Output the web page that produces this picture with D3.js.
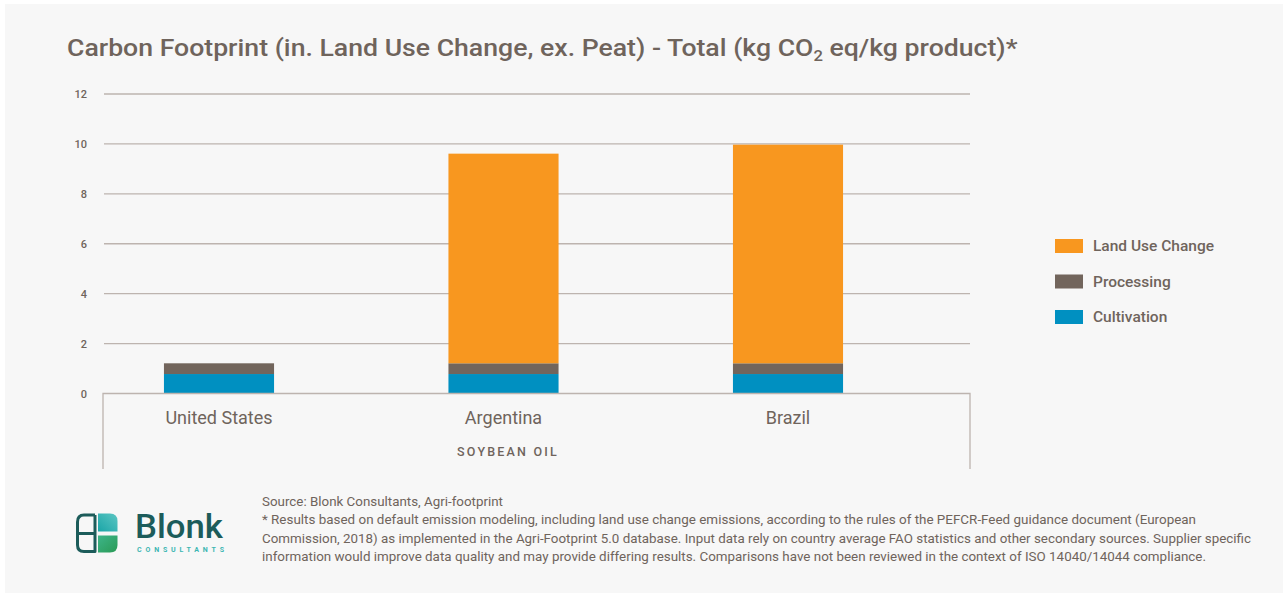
<!DOCTYPE html>
<html>
<head>
<meta charset="utf-8">
<title>Carbon Footprint - Soybean oil</title>
<script src="https://cdn.jsdelivr.net/npm/d3@7"></script>
<style>
  body { margin: 0; background: #fff; }
  text { font-family: Roboto, "Open Sans", sans-serif; }
</style>
</head>
<body>
<svg id="chart" width="1287" height="596"></svg>
<script>
// data
var countries = ["United States", "Argentina", "Brazil"];
var cultivation = [0.78, 0.78, 0.78];
var processing = [0.43, 0.43, 0.43];
var landUseChange = [0, 8.40, 8.76];
var seriesNames = ["Land Use Change", "Processing", "Cultivation"];
var seriesColors = ["#f8971f", "#72655c", "#0090c1"];
var yTicks = [0, 2, 4, 6, 8, 10, 12];
var groupLabel = "SOYBEAN OIL";
var footLines = [
  "Source: Blonk Consultants, Agri-footprint",
  "* Results based on default emission modeling, including land use change emissions, according to the rules of the PEFCR-Feed guidance document (European",
  "Commission, 2018) as implemented in the Agri-Footprint 5.0 database. Input data rely on country average FAO statistics and other secondary sources. Supplier specific",
  "information would improve data quality and may provide differing results. Comparisons have not been reviewed in the context of ISO 14040/14044 compliance."
];
var footWidths = [241, 934, 989, 944];

var textCol = "#6f645c";
var svg = d3.select("#chart");

svg.append("rect").attr("x", 5).attr("y", 4).attr("width", 1278).attr("height", 589).attr("fill", "#f7f7f7");

// title
var title = svg.append("text").attr("x", 67).attr("y", 56)
  .attr("font-size", 24).attr("font-weight", 500).attr("fill", textCol);
title.append("tspan").text("Carbon Footprint (in. Land Use Change, ex. Peat) - Total (kg CO");
title.append("tspan").text("2").attr("font-size", 15).attr("dy", 5);
title.append("tspan").text(" eq/kg product)*").attr("dy", -5);
var tw = title.node().getComputedTextLength();
title.attr("transform", "translate(67,0) scale(" + (951 / tw) + ",1) translate(-67,0)");

var y = d3.scaleLinear().domain([0, 12]).range([393.5, 94]);
var x = d3.scaleBand().domain(countries).range([76.75, 930.25])
  .paddingInner(0.613).paddingOuter(0.3065);

// gridlines
svg.append("g").selectAll("line").data(yTicks.filter(function(d){ return d > 0; }))
  .enter().append("line")
  .attr("x1", 104).attr("x2", 970)
  .attr("y1", function(d){ return y(d); }).attr("y2", function(d){ return y(d); })
  .attr("stroke", "#bdb4af").attr("stroke-width", 1.3);

// y tick labels
svg.append("g").selectAll("text").data(yTicks).enter().append("text")
  .attr("x", 87).attr("y", function(d){ return y(d) + 4; })
  .attr("text-anchor", "end").attr("font-size", 11).attr("font-weight", 500)
  .attr("fill", textCol).text(function(d){ return d; });

// stacked bars
var rows = countries.map(function(c, i) {
  return { country: c, "Cultivation": cultivation[i], "Processing": processing[i], "Land Use Change": landUseChange[i] };
});
var stack = d3.stack().keys(["Cultivation", "Processing", "Land Use Change"]);
var layers = stack(rows);
svg.append("g").selectAll("g").data(layers).enter().append("g")
  .attr("fill", function(d){ return seriesColors[seriesNames.indexOf(d.key)]; })
  .selectAll("rect").data(function(d){ return d; }).enter().append("rect")
  .attr("x", function(d){ return x(d.data.country); })
  .attr("width", x.bandwidth())
  .attr("y", function(d){ return y(d[1]); })
  .attr("height", function(d){ return y(d[0]) - y(d[1]); });

// category axis box
var ax = svg.append("g").attr("stroke", "#bdb4af").attr("stroke-width", 1.3).attr("fill", "none");
ax.append("path").attr("d", "M103,469V" + y(0) + "H970V469");

svg.append("g").selectAll("text").data(countries).enter().append("text")
  .attr("x", function(d){ return x(d) + x.bandwidth() / 2; }).attr("y", 424)
  .attr("text-anchor", "middle").attr("font-size", 18).attr("fill", textCol)
  .text(function(d){ return d; });

svg.append("text").attr("x", 508).attr("y", 456).attr("text-anchor", "middle")
  .attr("font-size", 12.5).attr("font-weight", 500).attr("letter-spacing", 2.2)
  .attr("fill", textCol).text(groupLabel);

// legend
var leg = svg.append("g").selectAll("g").data(seriesNames).enter().append("g")
  .attr("transform", function(d, i){ return "translate(1055," + (239 + i * 35.5) + ")"; });
leg.append("rect").attr("width", 28).attr("height", 14)
  .attr("fill", function(d, i){ return seriesColors[i]; });
leg.append("text").attr("x", 38).attr("y", 12).attr("font-size", 15.5).attr("font-weight", 500)
  .attr("fill", textCol).text(function(d){ return d; });

// footnotes
svg.append("g").selectAll("text").data(footLines).enter().append("text")
  .attr("x", 262).attr("y", function(d, i){ return 506 + i * 18.3; })
  .attr("font-size", 13).attr("fill", textCol)
  .attr("textLength", function(d, i){ return footWidths[i]; })
  .attr("lengthAdjust", "spacingAndGlyphs")
  .text(function(d){ return d; });

// logo
var logo = svg.append("g");
var defs = svg.append("defs");
var g1 = defs.append("linearGradient").attr("id", "lgTop").attr("x1", 0).attr("y1", 1).attr("x2", 1).attr("y2", 0);
g1.append("stop").attr("offset", 0).attr("stop-color", "#1aa5a7");
g1.append("stop").attr("offset", 1).attr("stop-color", "#5cc6c3");
var g2 = defs.append("linearGradient").attr("id", "lgBot").attr("x1", 0).attr("y1", 0).attr("x2", 1).attr("y2", 1);
g2.append("stop").attr("offset", 0).attr("stop-color", "#3db58a");
g2.append("stop").attr("offset", 1).attr("stop-color", "#2a9a55");
logo.append("path")
  .attr("d", "M95,515H84Q77.5,515 77.5,522V533.5Q77.5,540 77.5,545Q77.5,551.5 84,551.5H95V515 M77.5,533.5H95")
  .attr("fill", "none").attr("stroke", "#1c5c5a").attr("stroke-width", 3).attr("stroke-linejoin", "round");
logo.append("path").attr("d", "M98,513.5H110Q117.5,513.5 117.5,521V531.5H98Z").attr("fill", "url(#lgTop)");
logo.append("path").attr("d", "M98,535.5H117.5V545Q117.5,552.5 110,552.5H98Z").attr("fill", "url(#lgBot)");
logo.append("text").attr("x", 135).attr("y", 538).attr("font-size", 33).attr("font-weight", 500)
  .attr("fill", "#1c5c5a").attr("textLength", 88).attr("lengthAdjust", "spacingAndGlyphs").text("Blonk");
logo.append("text").attr("x", 137).attr("y", 552).attr("font-size", 7).attr("font-weight", 700)
  .attr("fill", "#3cb6b2").attr("textLength", 87).text("CONSULTANTS");
</script>
</body>
</html>
